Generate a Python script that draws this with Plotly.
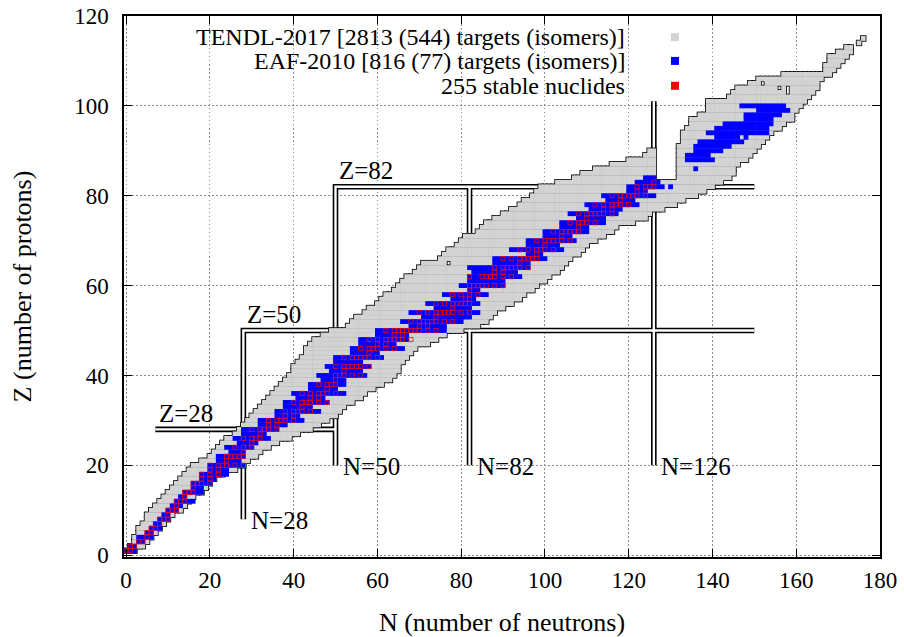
import plotly.graph_objects as go

# ---------------- data ----------------
# TENDL-2017 targets: per proton number Z, contiguous neutron-number segments
LOWER_Z = list(range(1, 91))
LOWER_NLO = [0, 1, 2, 2, 3, 3, 4, 5, 5, 6, 7, 8, 9, 10, 11, 12, 13, 14, 15, 16,
             18, 20, 21, 22, 23, 24, 26, 27, 28, 29, 30, 31, 32, 33, 34, 35, 36, 37, 38, 39,
             40, 40, 41, 42, 43, 43, 44, 45, 47, 49, 53, 54, 55, 57, 58, 60, 61, 62, 64, 65,
             66, 67, 69, 70, 71, 75, 76, 77, 79, 80, 81, 84, 85, 86, 88, 90, 92, 94, 95, 97,
             98, 99, 103, 107, 109, 112, 116, 120, 124, 125]
LOWER_NHI = [2, 4, 5, 6, 7, 8, 9, 10, 11, 13, 14, 15, 16, 18, 19, 20, 21, 23, 26, 28,
             29, 31, 32, 34, 36, 39, 41, 44, 46, 48, 50, 51, 52, 54, 56, 57, 59, 61, 63, 64,
             65, 65, 66, 67, 68, 69, 72, 74, 76, 80, 84, 86, 87, 88, 90, 92, 94, 95, 97, 98,
             100, 101, 103, 104, 105, 106, 108, 109, 110, 112, 114, 116, 117, 121, 124, 125, 128, 131, 133, 136,
             138, 140, 142, 126, 126, 126, 126, 126, 126, 126]
UPPER_Z = list(range(84, 116))
UPPER_NLO = [132, 132, 132, 132, 132, 132, 132, 132, 133, 133, 133, 134, 135, 135, 137, 139,
             139, 139, 144, 145, 146, 149, 151, 157, 167, 167, 168, 168, 170, 172, 175, 176]
UPPER_NHI = [144, 145, 145, 146, 148, 149, 150, 151, 152, 153, 154, 156, 157, 159, 159, 160,
             161, 162, 163, 164, 165, 165, 166, 168, 169, 170, 171, 172, 173, 173, 175, 176]
HOLE_N = [77, 152, 156, 158, 158]
HOLE_Z = [65, 105, 104, 103, 104]

# EAF-2010 targets: per Z, neutron-number range
EAF_Z = [1, 2, 3, 4, 5, 6, 7, 8, 9, 10, 11, 12, 13, 14, 15, 16, 17, 18, 19, 20,
         21, 22, 23, 24, 25, 26, 27, 28, 29, 30, 31, 32, 33, 34, 35, 36, 37, 38, 39, 40,
         41, 42, 43, 44, 45, 46, 47, 48, 49, 50, 51, 52, 53, 54, 55, 56, 57, 58, 59, 60,
         61, 62, 63, 64, 65, 66, 67, 68, 69, 70, 71, 72, 73, 74, 75, 76, 77, 78, 79, 80,
         81, 82, 83, 84, 86, 88, 89, 90, 91, 92, 93, 94, 95, 96, 97, 98, 99, 100]
EAF_NLO = [0, 1, 3, 3, 5, 6, 7, 8, 9, 10, 11, 12, 13, 14, 16, 16, 18, 18, 20, 20,
           22, 22, 25, 24, 27, 26, 28, 28, 32, 32, 36, 36, 38, 38, 41, 40, 44, 44, 47, 46,
           49, 48, 50, 50, 54, 54, 56, 56, 60, 60, 68, 66, 71, 68, 74, 72, 78, 76, 82, 80,
           82, 82, 83, 82, 88, 88, 96, 92, 96, 96, 100, 100, 104, 104, 108, 106, 111, 110, 115, 114,
           120, 120, 122, 124, 136, 134, 134, 136, 136, 137, 141, 139, 141, 143, 148, 148, 151, 147]
EAF_NHI = [2, 2, 4, 6, 6, 8, 8, 10, 10, 12, 13, 16, 14, 18, 18, 20, 21, 24, 24, 28,
           27, 28, 28, 30, 31, 34, 33, 36, 38, 42, 41, 46, 44, 48, 47, 52, 50, 52, 52, 57,
           56, 58, 56, 61, 60, 66, 64, 67, 67, 76, 76, 80, 82, 84, 82, 84, 83, 86, 84, 90,
           90, 94, 93, 96, 96, 100, 99, 104, 103, 107, 106, 110, 110, 114, 114, 117, 118, 122, 121, 126,
           124, 128, 127, 126, 136, 140, 139, 142, 144, 147, 146, 153, 153, 154, 154, 156, 158, 157]
EAF_EXTRA_N = [130, 148]
EAF_EXTRA_Z = [82, 93]

# stable nuclides: neutron numbers for Z = 1 .. 83
STABLE_Z = list(range(1, 84))
STABLE_N = [
    [0, 1], [1, 2], [3, 4], [5], [5, 6], [6, 7], [7, 8], [8, 9, 10], [10], [10, 11, 12],
    [12], [12, 13, 14], [14], [14, 15, 16], [16], [16, 17, 18, 20], [18, 20], [18, 20, 22],
    [20, 22], [20, 22, 23, 24, 26, 28], [24], [24, 25, 26, 27, 28], [28], [26, 28, 29, 30],
    [30], [28, 30, 31, 32], [32], [30, 32, 33, 34, 36], [34, 36], [34, 36, 37, 38, 40],
    [38, 40], [38, 40, 41, 42, 44], [42], [40, 42, 43, 44, 46, 48], [44, 46],
    [42, 44, 46, 47, 48, 50], [48], [46, 48, 49, 50], [50], [50, 51, 52, 54, 56], [52],
    [50, 52, 53, 54, 55, 56, 58], [], [52, 54, 55, 56, 57, 58, 60], [58],
    [56, 58, 59, 60, 62, 64], [60, 62], [58, 60, 62, 63, 64, 65, 66, 68], [64, 66],
    [62, 64, 65, 66, 67, 68, 69, 70, 72, 74], [70, 72], [68, 70, 71, 72, 73, 74, 76, 78],
    [74], [70, 72, 74, 75, 76, 77, 78, 80, 82], [78], [74, 76, 78, 79, 80, 81, 82],
    [81, 82], [78, 80, 82, 84], [82], [82, 83, 84, 85, 86, 88, 90], [],
    [82, 85, 86, 87, 88, 90, 92], [88, 90], [88, 90, 91, 92, 93, 94, 96], [94],
    [90, 92, 94, 95, 96, 97, 98], [98], [94, 96, 98, 99, 100, 102], [100],
    [98, 100, 101, 102, 103, 104, 106], [104], [102, 104, 105, 106, 107, 108], [108],
    [106, 108, 109, 110, 112], [110], [108, 110, 111, 112, 113, 114, 116], [114, 116],
    [112, 114, 116, 117, 118, 120], [118], [116, 118, 119, 120, 121, 122, 124], [122, 124],
    [122, 124, 125, 126], [126]]

# magic-number guide lines (polylines in N, Z) and their labels
SHELL_LINE_N = [[28, 28, 150], [50, 50, 150], [7, 50], [82, 82], [126, 126]]
SHELL_LINE_Z = [[8, 50, 50], [20, 82, 82], [28, 28], [20, 82], [20, 101]]
Z_LABEL_TEXT = ["Z=28", "Z=50", "Z=82"]
Z_LABEL_N = [7, 28, 50]
Z_LABEL_Z = [28, 50, 82]
N_LABEL_TEXT = ["N=28", "N=50", "N=82", "N=126"]
N_LABEL_N = [28, 50, 82, 126]
N_LABEL_Z = [8, 20, 20, 20]

LEGEND_TEXT = ["TENDL-2017 [2813 (544) targets (isomers)]",
               "EAF-2010 [816 (77) targets (isomers)]",
               "255 stable nuclides"]
X_TICKS = [0, 20, 40, 60, 80, 100, 120, 140, 160, 180]
Y_TICKS = [0, 20, 40, 60, 80, 100, 120]

GRAY = "#d3d3d3"
BLUE = "#0000ff"
RED = "#ff0000"
FONT = "Liberation Serif, Times New Roman, Times, serif"

# ---------------- expand segments into cells ----------------
holes = set(zip(HOLE_N, HOLE_Z))


def expand(zs, los, his):
    ns, zz = [], []
    for z, a, b in zip(zs, los, his):
        for n in range(a, b + 1):
            if (n, z) not in holes:
                ns.append(n)
                zz.append(z)
    return ns, zz


tn1, tz1 = expand(LOWER_Z, LOWER_NLO, LOWER_NHI)
tn2, tz2 = expand(UPPER_Z, UPPER_NLO, UPPER_NHI)
tendl_n, tendl_z = tn1 + tn2, tz1 + tz2

en, ez = expand(EAF_Z, EAF_NLO, EAF_NHI)
eaf_n, eaf_z = en + EAF_EXTRA_N, ez + EAF_EXTRA_Z

st_n, st_z = [], []
for z, ns in zip(STABLE_Z, STABLE_N):
    for n in ns:
        st_n.append(n)
        st_z.append(z)

# ---------------- figure ----------------
fig = go.Figure()

line_n, line_z = [], []
for ns, zs in zip(SHELL_LINE_N, SHELL_LINE_Z):
    line_n += ns + [None]
    line_z += zs + [None]

fig.add_trace(go.Scatter(x=line_n, y=line_z, mode="lines",
                         line=dict(color="black", width=5.6), hoverinfo="skip"))
fig.add_trace(go.Scatter(x=line_n, y=line_z, mode="lines",
                         line=dict(color="white", width=2.4), hoverinfo="skip"))

# outline layer under the TENDL cells
fig.add_trace(go.Scatter(x=tendl_n, y=tendl_z, mode="markers",
                         marker=dict(symbol="square", size=6.4, color="black",
                                     line=dict(width=0)), hoverinfo="skip"))
fig.add_trace(go.Scatter(x=tendl_n, y=tendl_z, mode="markers", name=LEGEND_TEXT[0],
                         marker=dict(symbol="square", size=4.8, color=GRAY,
                                     line=dict(width=0))))
fig.add_trace(go.Scatter(x=eaf_n, y=eaf_z, mode="markers", name=LEGEND_TEXT[1],
                         marker=dict(symbol="square", size=4.8, color=BLUE,
                                     line=dict(width=0))))
fig.add_trace(go.Scatter(x=st_n, y=st_z, mode="markers", name=LEGEND_TEXT[2],
                         marker=dict(symbol="square-open", size=4.2, color=RED,
                                     line=dict(width=0.75, color=RED))))

annotations = []
for t, n, z in zip(Z_LABEL_TEXT, Z_LABEL_N, Z_LABEL_Z):
    annotations.append(dict(x=n + 0.4, y=z, xref="x", yref="y", text=t, showarrow=False,
                            xanchor="left", yanchor="middle", yshift=16,
                            font=dict(family=FONT, size=25, color="black")))
for t, n, z in zip(N_LABEL_TEXT, N_LABEL_N, N_LABEL_Z):
    annotations.append(dict(x=n + 1.3, y=z, xref="x", yref="y", text=t, showarrow=False,
                            xanchor="left", yanchor="middle", yshift=-1,
                            font=dict(family=FONT, size=25, color="black")))

# key (text right-aligned, sample square to the right, as in the reference)
key_y = [0.961, 0.917, 0.871]
key_col = [GRAY, BLUE, RED]
shapes = []
for t, yk, c in zip(LEGEND_TEXT, key_y, key_col):
    annotations.append(dict(x=0.666, y=yk, xref="paper", yref="paper", text=t,
                            showarrow=False, xanchor="right", yanchor="middle",
                            font=dict(family=FONT, size=24, color="black")))
    shapes.append(dict(type="rect", xref="paper", yref="paper",
                       x0=0.7235, x1=0.7341, y0=yk - 0.0074, y1=yk + 0.0074,
                       fillcolor=c, line=dict(width=0)))

axis_common = dict(showline=True, linecolor="black", linewidth=1.5, mirror="ticks",
                   ticks="inside", ticklen=8, tickwidth=1, tickcolor="black",
                   showgrid=True, gridcolor="#8c8c8c", gridwidth=1, griddash="1.5px,2.5px",
                   zeroline=False, tickfont=dict(family=FONT, size=23, color="black"))

fig.update_layout(
    width=904, height=637,
    margin=dict(l=124, r=24, t=16, b=80, autoexpand=False),
    paper_bgcolor="white", plot_bgcolor="white",
    showlegend=False,
    font=dict(family=FONT, color="black"),
    xaxis=dict(range=[-0.5, 180], tickvals=X_TICKS, automargin=False, ticklabelstandoff=2,
               title=dict(text="N (number of neutrons)", standoff=21,
                          font=dict(family=FONT, size=26, color="black")),
               **axis_common),
    yaxis=dict(range=[-0.4, 120], tickvals=Y_TICKS, automargin=False, ticklabelstandoff=9,
               title=dict(text="Z (number of protons)", standoff=35,
                          font=dict(family=FONT, size=26, color="black")),
               **axis_common),
    annotations=annotations,
    shapes=shapes,
)

fig.write_html("out.html")
